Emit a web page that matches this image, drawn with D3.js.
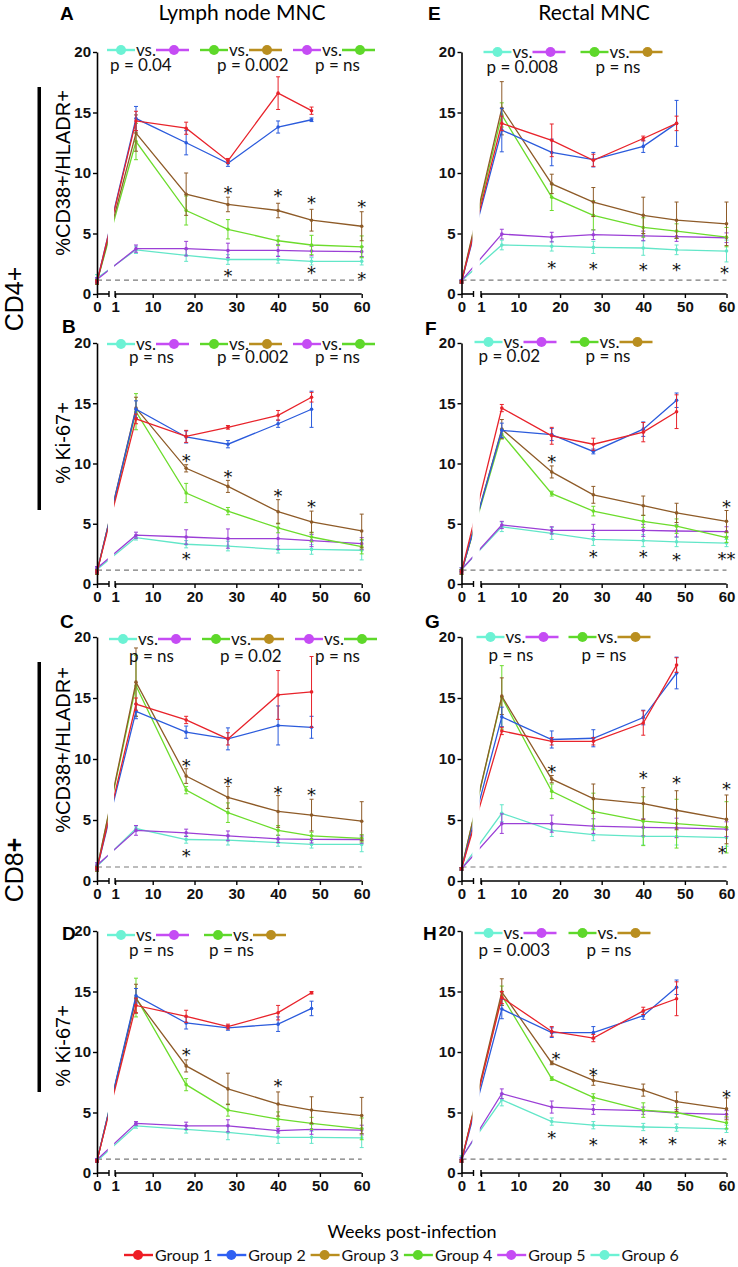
<!DOCTYPE html>
<html><head><meta charset="utf-8">
<script src="https://cdn.jsdelivr.net/npm/d3@7"></script>
<style>body{margin:0;background:#fff}</style>
</head><body>
<svg id="chart" width="738" height="1267"></svg>
<script>
// ---------- DATA ----------
const weeks = [0, 6, 18, 28, 40, 48, 60];
const groupNames = ["Group 1", "Group 2", "Group 3", "Group 4", "Group 5", "Group 6"];
const xTickValues = [0, 1, 10, 20, 30, 40, 50, 60];
const yTickValues = [0, 5, 10, 15, 20];
const baselineLevel = 1.15;
const columnTitles = ["Lymph node MNC", "Rectal MNC"];
const rowSubsets = ["CD4+", "CD8+"];
const yTitles = ["%CD38+/HLADR+", "% Ki-67+", "%CD38+/HLADR+", "% Ki-67+"];
const xTitle = "Weeks post-infection";

// rows: Group1..Group6, columns: weeks
const meanA = [
  [1.0, 14.3, 13.7, 11.0, 16.6, 15.15, null],
  [1.0, 14.5, 12.5, 10.8, 13.8, 14.4, null],
  [1.0, 13.3, 8.25, 7.4, 6.9, 6.1, 5.6],
  [1.0, 12.6, 6.9, 5.35, 4.4, 4.05, 3.9],
  [1.2, 3.75, 3.75, 3.6, 3.6, 3.55, 3.5],
  [1.3, 3.65, 3.2, 2.85, 2.85, 2.7, 2.7]];
const errA = [
  [0.1, 0.8, 0.5, 0.2, 1.35, 0.3, null],
  [0.1, 1.0, 1.0, 0.25, 0.5, 0.15, null],
  [0.2, 1.5, 1.75, 0.6, 0.6, 0.9, 1.2],
  [0.2, 1.5, 1.2, 0.8, 0.4, 0.8, 0.9],
  [0.15, 0.3, 0.6, 0.6, 0.5, 0.4, 0.4],
  [0.3, 0.3, 0.5, 0.4, 0.3, 0.3, 0.3]];
const meanB = [
  [1.0, 13.7, 12.25, 13.0, 14.0, 15.5, null],
  [1.0, 14.5, 12.2, 11.6, 13.3, 14.5, null],
  [1.0, 14.6, 9.6, 8.1, 6.0, 5.15, 4.4],
  [1.0, 14.3, 7.55, 6.05, 4.65, 3.9, 3.1],
  [1.3, 4.05, 3.9, 3.77, 3.77, 3.6, 3.35],
  [1.2, 3.85, 3.3, 3.15, 2.87, 2.87, 2.8]];
const errB = [
  [0.1, 0.4, 0.5, 0.15, 0.4, 0.4, null],
  [0.1, 0.7, 0.5, 0.3, 0.3, 1.5, null],
  [0.2, 0.9, 0.3, 0.5, 1.0, 0.9, 1.4],
  [0.2, 1.5, 0.8, 0.3, 0.4, 0.4, 0.6],
  [0.15, 0.25, 0.6, 0.8, 0.9, 0.5, 0.5],
  [0.2, 0.2, 0.3, 0.4, 0.3, 0.4, 0.8]];
const meanC = [
  [1.0, 14.5, 13.2, 11.65, 15.25, 15.5, null],
  [1.0, 13.9, 12.2, 11.65, 12.75, 12.6, null],
  [1.0, 16.3, 8.6, 6.85, 5.7, 5.4, 4.9],
  [1.0, 16.0, 7.45, 5.6, 4.15, 3.7, 3.5],
  [1.3, 4.15, 3.95, 3.7, 3.45, 3.42, 3.4],
  [1.2, 4.3, 3.4, 3.35, 3.15, 3.0, 3.0]];
const errC = [
  [0.1, 0.5, 0.3, 0.5, 2.0, 2.9, null],
  [0.1, 0.6, 0.5, 0.9, 1.6, 0.9, null],
  [0.2, 2.8, 0.6, 0.9, 1.3, 1.3, 1.6],
  [0.2, 2.5, 0.3, 0.8, 0.4, 0.3, 0.3],
  [0.2, 0.4, 0.3, 0.4, 0.3, 0.3, 0.3],
  [0.2, 0.2, 0.3, 0.4, 0.3, 0.3, 0.6]];
const meanD = [
  [1.0, 13.85, 12.95, 12.1, 13.25, 14.9, null],
  [1.0, 14.65, 12.4, 12.0, 12.3, 13.6, null],
  [1.0, 14.4, 8.85, 6.95, 5.7, 5.2, 4.75],
  [1.0, 14.5, 7.3, 5.2, 4.45, 4.1, 3.65],
  [1.1, 4.1, 3.9, 3.9, 3.5, 3.6, 3.55],
  [1.0, 3.9, 3.6, 3.35, 2.95, 2.95, 2.9]];
const errD = [
  [0.1, 0.6, 0.5, 0.2, 0.6, 0.1, null],
  [0.1, 0.6, 0.5, 0.2, 0.6, 0.6, null],
  [0.1, 1.2, 0.5, 1.3, 1.0, 1.1, 1.5],
  [0.1, 1.6, 0.5, 0.5, 0.6, 0.5, 0.9],
  [0.1, 0.15, 0.3, 0.5, 0.2, 0.4, 0.4],
  [0.1, 0.2, 0.3, 0.6, 0.5, 0.5, 0.8]];
const meanE = [
  [1.0, 14.1, 12.7, 11.05, 12.85, 14.1, null],
  [1.0, 13.55, 11.7, 11.1, 12.2, 14.1, null],
  [1.0, 15.35, 9.1, 7.6, 6.5, 6.1, 5.8],
  [1.0, 14.8, 8.0, 6.5, 5.5, 5.2, 4.7],
  [1.1, 4.95, 4.7, 4.9, 4.8, 4.75, 4.65],
  [1.1, 4.05, 3.95, 3.85, 3.8, 3.65, 3.55]];
const errE = [
  [0.1, 0.6, 1.35, 0.5, 0.2, 0.6, null],
  [0.1, 1.8, 1.1, 0.6, 0.5, 1.9, null],
  [0.1, 2.2, 0.8, 1.2, 1.5, 1.5, 1.8],
  [0.1, 1.0, 1.1, 1.2, 0.8, 0.6, 0.8],
  [0.1, 0.4, 0.4, 0.4, 0.4, 0.4, 0.4],
  [0.1, 0.4, 0.4, 0.5, 0.6, 0.4, 0.9]];
const meanF = [
  [1.0, 14.6, 12.3, 11.6, 12.6, 14.3, null],
  [1.0, 12.75, 12.4, 11.0, 12.85, 15.25, null],
  [1.0, 12.85, 9.3, 7.4, 6.5, 5.9, 5.2],
  [1.0, 12.45, 7.5, 6.05, 5.2, 4.8, 3.85],
  [1.2, 4.9, 4.45, 4.45, 4.45, 4.4, 4.35],
  [1.2, 4.75, 4.2, 3.7, 3.6, 3.5, 3.4]];
const errF = [
  [0.1, 0.3, 0.7, 0.5, 0.8, 1.4, null],
  [0.1, 0.6, 0.5, 0.2, 0.6, 0.6, null],
  [0.2, 0.8, 0.5, 0.7, 0.8, 0.8, 0.9],
  [0.2, 0.4, 0.2, 0.4, 0.5, 0.6, 0.4],
  [0.15, 0.3, 0.3, 0.5, 0.5, 0.5, 0.4],
  [0.15, 0.4, 0.5, 0.5, 0.5, 0.4, 0.3]];
const meanG = [
  [1.0, 12.3, 11.45, 11.45, 12.95, 17.7, null],
  [1.0, 13.45, 11.6, 11.7, 13.4, 17.05, null],
  [1.0, 15.15, 8.35, 6.75, 6.35, 5.8, 5.05],
  [1.0, 15.05, 7.35, 5.7, 4.9, 4.7, 4.4],
  [1.0, 4.7, 4.7, 4.5, 4.4, 4.35, 4.25],
  [1.0, 5.55, 4.15, 3.8, 3.65, 3.65, 3.55]];
const errG = [
  [0.1, 0.3, 0.3, 0.3, 1.0, 0.6, null],
  [0.1, 0.8, 0.7, 0.7, 0.6, 1.3, null],
  [0.1, 1.5, 0.3, 1.2, 1.3, 1.6, 2.0],
  [0.1, 2.6, 0.6, 1.5, 2.0, 2.0, 2.1],
  [0.1, 0.8, 0.7, 0.6, 0.7, 0.8, 0.6],
  [0.1, 0.7, 0.5, 0.5, 0.7, 0.7, 0.7]];
const meanH = [
  [1.0, 14.5, 11.7, 11.15, 13.4, 14.4, null],
  [1.0, 13.55, 11.6, 11.6, 13.0, 15.35, null],
  [1.0, 14.95, 9.1, 7.65, 6.85, 5.9, 5.3],
  [1.0, 14.65, 7.8, 6.25, 5.2, 5.0, 4.15],
  [1.2, 6.55, 5.45, 5.25, 5.15, 4.95, 4.85],
  [1.3, 6.05, 4.25, 3.95, 3.8, 3.75, 3.65]];
const errH = [
  [0.1, 0.5, 0.4, 0.3, 0.3, 1.4, null],
  [0.1, 0.8, 0.4, 0.5, 0.3, 0.6, null],
  [0.1, 1.1, 0.15, 0.4, 0.5, 0.8, 0.9],
  [0.1, 0.8, 0.15, 0.3, 0.6, 0.4, 0.5],
  [0.1, 0.4, 0.5, 0.4, 0.3, 0.3, 0.3],
  [0.15, 0.5, 0.3, 0.3, 0.3, 0.3, 0.3]];

// significance marks: [week, value, text]
const starsA = [[28, 8.7, "*"], [40, 8.4, "*"], [48, 7.85, "*"], [60, 7.5, "*"], [28, 1.85, "*"], [48, 2.1, "*"], [60, 1.6, "*"]];
const starsB = [[18, 10.5, "*"], [28, 9.2, "*"], [40, 7.6, "*"], [48, 6.7, "*"], [18, 2.4, "*"]];
const starsC = [[18, 9.75, "*"], [28, 8.3, "*"], [40, 7.55, "*"], [48, 7.35, "*"], [18, 2.4, "*"]];
const starsD = [[18, 10.1, "*"], [40, 7.5, "*"]];
const starsE = [[18, 2.5, "*"], [28, 2.4, "*"], [40, 2.35, "*"], [48, 2.35, "*"], [59.5, 2.05, "*"]];
const starsF = [[18, 10.45, "*"], [60, 6.75, "*"], [28, 2.6, "*"], [40, 2.55, "*"], [48, 2.3, "*"], [60, 2.4, "**"]];
const starsG = [[18, 9.25, "*"], [40, 8.8, "*"], [48, 8.35, "*"], [60, 7.85, "*"], [59, 2.65, "*"]];
const starsH = [[19, 9.75, "*"], [28, 8.4, "*"], [60, 6.6, "*"], [18, 3.2, "*"], [28, 2.65, "*"], [40, 2.7, "*"], [47, 2.75, "*"], [59, 2.65, "*"]];

// comparisons (group index pairs) and p values
const pairs3 = [[5, 4], [3, 2], [4, 3]];
const pairs2 = [[5, 4], [3, 2]];
const pValsA = ["p = 0.04", "p = 0.002", "p = ns"];
const pValsB = ["p = ns", "p = 0.002", "p = ns"];
const pValsC = ["p = ns", "p = 0.02", "p = ns"];
const pValsD = ["p = ns", "p = ns"];
const pValsE = ["p = 0.008", "p = ns"];
const pValsF = ["p = 0.02", "p = ns"];
const pValsG = ["p = ns", "p = ns"];
const pValsH = ["p = 0.003", "p = ns"];

// ---------- STYLE / LAYOUT ----------
const lineColors = ["#e8232b", "#2b5bdc", "#8e5b28", "#6cdc2c", "#9b3fd6", "#62e6c8"];
const iconColors = ["#ee1d25", "#2f60f2", "#b98e1f", "#5ed82a", "#c54cf4", "#6cf2d4"];
const colX = [
  {x0: 97, xb: 109, x1: 115.1, x60: 361.7},
  {x0: 461.5, xb: 473.5, x1: 481, x60: 726.5}];
const rowY = [{top: 52, bot: 294}, {top: 343, bot: 584}, {top: 637, bot: 881}, {top: 931, bot: 1173}];

const panels = [
  {id: "A", col: 0, row: 0, mean: meanA, err: errA, stars: starsA, pairs: pairs3, p: pValsA, hx: [10, 103, 196], px: [13, 120, 218], hdy: -2, pdy: 19, lab: [60, 20]},
  {id: "B", col: 0, row: 1, mean: meanB, err: errB, stars: starsB, pairs: pairs3, p: pValsB, hx: [10, 103, 196], px: [32, 120, 218], hdy: 1, pdy: 20, lab: [62, 333]},
  {id: "C", col: 0, row: 2, mean: meanC, err: errC, stars: starsC, pairs: pairs3, p: pValsC, hx: [12, 105, 198], px: [32, 123, 218], hdy: 2, pdy: 25, lab: [60, 628]},
  {id: "D", col: 0, row: 3, mean: meanD, err: errD, stars: starsD, pairs: pairs2, p: pValsD, hx: [10, 107], px: [32, 112], hdy: 4, pdy: 25, lab: [62, 940]},
  {id: "E", col: 1, row: 0, mean: meanE, err: errE, stars: starsE, pairs: pairs2, p: pValsE, hx: [22, 119], px: [25, 134], hdy: 0, pdy: 21, lab: [428, 20]},
  {id: "F", col: 1, row: 1, mean: meanF, err: errF, stars: starsF, pairs: pairs2, p: pValsF, hx: [13, 109], px: [17, 124], hdy: -1, pdy: 19, lab: [425, 335]},
  {id: "G", col: 1, row: 2, mean: meanG, err: errG, stars: starsG, pairs: pairs2, p: pValsG, hx: [15, 107], px: [27, 120], hdy: 0, pdy: 24, lab: [425, 628]},
  {id: "H", col: 1, row: 3, mean: meanH, err: errH, stars: starsH, pairs: pairs2, p: pValsH, hx: [13, 107], px: [17, 125], hdy: 2, pdy: 25, lab: [423, 940]}];

const SANS = "'Liberation Sans', Arial, sans-serif";
const CAL = "Lato, 'Open Sans', sans-serif";
const NARROW = "'Liberation Sans Narrow', 'Liberation Sans', Arial, sans-serif";

const svg = d3.select("#chart");
const defs = svg.append("defs");

function icon(g, cx, y, len, centerOff, color) {
  g.append("line").attr("x1", cx).attr("x2", cx + len).attr("y1", y).attr("y2", y)
    .attr("stroke", color).attr("stroke-width", 2.4);
  g.append("circle").attr("cx", cx + centerOff).attr("cy", y).attr("r", 5).attr("fill", color);
}

panels.forEach(P => {
  const cx = colX[P.col], ry = rowY[P.row];
  const x = d3.scaleLinear().domain([0, 0.5, 1, 60]).range([cx.x0, cx.xb, cx.x1, cx.x60]);
  const y = d3.scaleLinear().domain([0, 20]).range([ry.bot, ry.top]);
  const g = svg.append("g");

  // clip to hide the axis break region
  const clipId = "clip" + P.id;
  const cp = defs.append("clipPath").attr("id", clipId);
  cp.append("rect").attr("x", x(0) - 8).attr("y", ry.top - 40).attr("width", x(0.45) - x(0) + 8).attr("height", ry.bot - ry.top + 60);
  cp.append("rect").attr("x", x(0.92)).attr("y", ry.top - 40).attr("width", x(60) - x(0.92) + 10).attr("height", ry.bot - ry.top + 60);

  // baseline dashed line
  g.append("line").attr("x1", x(0)).attr("x2", x(60)).attr("y1", y(baselineLevel)).attr("y2", y(baselineLevel))
    .attr("stroke", "#7a7a7a").attr("stroke-width", 1.1).attr("stroke-dasharray", "5,4");

  const line = d3.line().x(d => x(d.w)).y(d => y(d.v));
  [5, 4, 3, 2, 1, 0].forEach(gi => {
    const pts = weeks.map((w, i) => ({w, v: P.mean[gi][i], e: P.err[gi][i]})).filter(d => d.v != null);
    const col = lineColors[gi];
    g.append("path").datum(pts).attr("d", line).attr("fill", "none")
      .attr("stroke", col).attr("stroke-width", 1.3).attr("clip-path", `url(#${clipId})`);
    const eb = g.append("g").attr("stroke", col).attr("stroke-width", 1);
    pts.forEach(d => {
      const xx = x(d.w);
      eb.append("line").attr("x1", xx).attr("x2", xx).attr("y1", y(d.v - d.e)).attr("y2", y(d.v + d.e));
      eb.append("line").attr("x1", xx - 2).attr("x2", xx + 2).attr("y1", y(d.v - d.e)).attr("y2", y(d.v - d.e));
      eb.append("line").attr("x1", xx - 2).attr("x2", xx + 2).attr("y1", y(d.v + d.e)).attr("y2", y(d.v + d.e));
    });
    g.selectAll(null).data(pts).enter().append("circle")
      .attr("cx", d => x(d.w)).attr("cy", d => y(d.v)).attr("r", 1.8).attr("fill", col);
  });

  // axes
  const yAx = g.append("g").attr("transform", `translate(${x(0)},0)`)
    .call(d3.axisLeft(y).tickValues(yTickValues).tickSize(4).tickSizeOuter(0).tickPadding(2));
  yAx.select(".domain").attr("stroke-width", 1.6);
  yAx.selectAll(".tick line").attr("stroke-width", 1.4);
  yAx.selectAll("text").attr("font-family", NARROW).attr("font-weight", "bold").attr("font-size", 15).attr("fill", "#111");

  const xAx = g.append("g").attr("transform", `translate(0,${y(0)})`)
    .call(d3.axisBottom(x).tickValues(xTickValues).tickSize(4).tickSizeOuter(0).tickPadding(3).tickFormat(d3.format("d")));
  xAx.select(".domain").remove();
  xAx.selectAll(".tick line").attr("stroke-width", 1.4);
  xAx.selectAll("text").attr("font-family", NARROW).attr("font-weight", "bold").attr("font-size", 15).attr("fill", "#111");
  xAx.append("line").attr("x1", x(0)).attr("x2", x(0.5)).attr("stroke", "#000").attr("stroke-width", 1.6);
  xAx.append("line").attr("x1", x(1)).attr("x2", x(60)).attr("stroke", "#000").attr("stroke-width", 1.6);
  xAx.append("line").attr("x1", x(0.5)).attr("x2", x(0.5)).attr("y1", -3).attr("y2", 3).attr("stroke", "#000").attr("stroke-width", 1.4);
  xAx.append("line").attr("x1", x(1)).attr("x2", x(1)).attr("y1", -3).attr("y2", 3).attr("stroke", "#000").attr("stroke-width", 1.4);

  // significance asterisks
  g.selectAll(null).data(P.stars).enter().append("text")
    .attr("x", d => x(d[0])).attr("y", d => y(d[1]) + 10)
    .attr("text-anchor", "middle").attr("font-family", "'DejaVu Sans', sans-serif")
    .attr("font-size", 18).attr("fill", "#111").text(d => d[2]);

  // comparison header
  const hy = ry.top + P.hdy;
  P.pairs.forEach((pr, k) => {
    const hx = x(0) + P.hx[k];
    icon(g, hx, hy, 28, 14, iconColors[pr[0]]);
    g.append("text").attr("x", hx + 29).attr("y", hy + 6).attr("font-family", CAL).attr("font-size", 17).attr("fill", "#111").text("vs.");
    icon(g, hx + 49, hy, 33, 18, iconColors[pr[1]]);
    g.append("text").attr("x", x(0) + P.px[k]).attr("y", ry.top + P.pdy).attr("font-family", CAL).attr("font-size", 17).attr("fill", "#111").text(P.p[k]);
  });

  // panel letter
  svg.append("text").attr("x", P.lab[0]).attr("y", P.lab[1]).attr("font-family", SANS).attr("font-weight", "bold")
    .attr("font-size", 19).attr("fill", "#000").text(P.id);

  // y title (left column only)
  if (P.col === 0) {
    const cyT = [173, 443, 750, 1046][P.row];
    svg.append("text").attr("transform", `translate(70,${cyT}) rotate(-90)`).attr("text-anchor", "middle")
      .attr("font-family", SANS).attr("font-size", 20).attr("fill", "#000").text(yTitles[P.row]);
  }
});

// column titles
svg.append("text").attr("x", 242).attr("y", 20).attr("text-anchor", "middle").attr("font-family", CAL).attr("font-size", 21).text(columnTitles[0]);
svg.append("text").attr("x", 594).attr("y", 20).attr("text-anchor", "middle").attr("font-family", CAL).attr("font-size", 21).text(columnTitles[1]);

// subset labels and bars
svg.append("rect").attr("x", 37.5).attr("y", 87).attr("width", 3.5).attr("height", 423).attr("fill", "#000");
svg.append("rect").attr("x", 37.5).attr("y", 662).attr("width", 3.5).attr("height", 430).attr("fill", "#000");
svg.append("text").attr("transform", "translate(23,299) rotate(-90)").attr("text-anchor", "middle")
  .attr("font-family", SANS).attr("font-size", 25).text(rowSubsets[0]);
const cd8 = svg.append("text").attr("transform", "translate(23,870) rotate(-90)").attr("text-anchor", "middle")
  .attr("font-family", SANS).attr("font-size", 25);
cd8.append("tspan").text(rowSubsets[1].slice(0, -1));
cd8.append("tspan").attr("font-weight", "bold").text(rowSubsets[1].slice(-1));

// x title
svg.append("text").attr("x", 412).attr("y", 1238).attr("text-anchor", "middle").attr("font-family", CAL).attr("font-size", 18).text(xTitle);

// legend
const leg = svg.append("g");
groupNames.forEach((name, i) => {
  const lx = 124 + i * 93.3;
  icon(leg, lx, 1255, 29, 14, iconColors[i]);
  leg.append("text").attr("x", lx + 31).attr("y", 1261).attr("font-family", CAL).attr("font-size", 16).attr("fill", "#111").text(name);
});
</script>
</body></html>
